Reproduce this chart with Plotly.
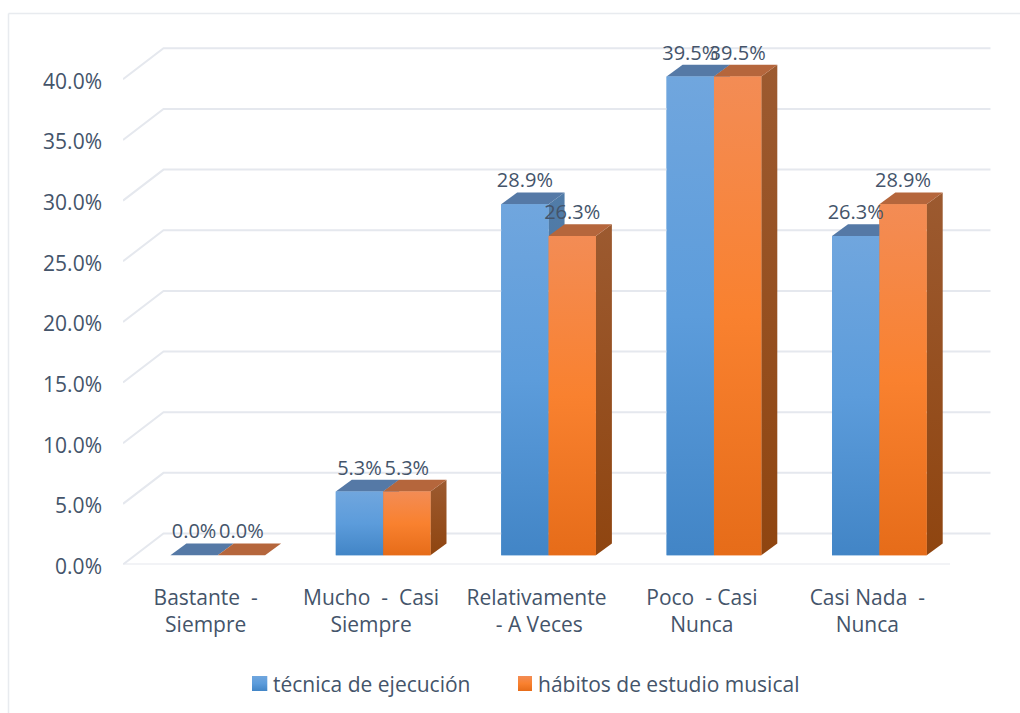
import plotly.graph_objects as go

categories = ["Bastante  -<br>Siempre", "Mucho  -  Casi<br>Siempre", "Relativamente<br> - A Veces",
              "Poco  - Casi<br>Nunca", "Casi Nada  -<br>Nunca"]
tecnica = [0.0, 5.26, 28.95, 39.47, 26.32]
habitos = [0.0, 5.26, 26.32, 39.47, 28.95]
series_names = ["técnica de ejecución", "hábitos de estudio musical"]
y_ticks = [0, 5, 10, 15, 20, 25, 30, 35, 40]

W, H = 1020, 713
TEXT = "#44546a"
FONT = "Open Sans"
GRID = "#e5e8ee"
X_PX = 165.4      # pixels per category
Y_PX = 12.13      # pixels per percentage point
BAR_W = 47.35 / X_PX
BAR_L = -35.3 / X_PX
BASE = 9.2 / Y_PX          # floor depth of the bar front
SIDE_X, SIDE_Y = 16 / X_PX, 11.7 / Y_PX
BACK_X, BACK_Y = 40.5 / X_PX, 31 / Y_PX
LABEL_UP = 22 / Y_PX

STYLES = [
    dict(front=[[0, "#70a6de"], [0.5, "#5c9cdb"], [1, "#4285c6"]],
         top="#5579a6", side=[[0, "#517ca8"], [1, "#3f6d9c"]], solid="#5b9bd5"),
    dict(front=[[0, "#f38c55"], [0.5, "#f9812f"], [1, "#e66c19"]],
         top="#b5663c", side=[[0, "#9c5a30"], [1, "#8f4510"]], solid="#ed7d31"),
]


def grad(scale):
    return dict(type="vertical", colorscale=[[1 - p, c] for p, c in reversed(scale)])


fig = go.Figure()

for i, (vals, st) in enumerate(zip((tecnica, habitos), STYLES)):
    fig.add_bar(x=list(range(5)), y=vals, base=[BASE] * 5, width=BAR_W,
                offset=BAR_L + i * BAR_W, marker=dict(color=st["solid"], line_width=0),
                name=series_names[i], showlegend=False, hoverinfo="skip")

fig.add_scatter(x=[-0.5, 4.5], y=[0, 0], mode="lines",
                line=dict(color=GRID, width=2), showlegend=False, hoverinfo="skip")
for v in y_ticks:
    fig.add_scatter(x=[-0.5, -0.5 + BACK_X, 4.5 + BACK_X], y=[v, v + BACK_Y, v + BACK_Y],
                    mode="lines", line=dict(color=GRID, width=2),
                    showlegend=False, hoverinfo="skip")


def poly(xs, ys, color=None, gradient=None):
    kw = dict(x=xs + xs[:1], y=ys + ys[:1], mode="lines", fill="toself", line=dict(width=0),
              showlegend=False, hoverinfo="skip")
    if gradient:
        kw["fillgradient"] = grad(gradient)
    else:
        kw["fillcolor"] = color
    fig.add_scatter(**kw)


for c in range(5):
    for i, (vals, st) in enumerate(zip((tecnica, habitos), STYLES)):
        x0 = c + BAR_L + i * BAR_W
        x1 = x0 + BAR_W
        y0, y1 = BASE, BASE + vals[c]
        if vals[c] > 0:
            poly([x1, x1 + SIDE_X, x1 + SIDE_X, x1], [y0, y0 + SIDE_Y, y1 + SIDE_Y, y1], gradient=st["side"])
        poly([x0, x1, x1 + SIDE_X, x0 + SIDE_X], [y1, y1, y1 + SIDE_Y, y1 + SIDE_Y], color=st["top"])
        if vals[c] > 0:
            poly([x0, x1, x1, x0], [y0, y0, y1, y1], gradient=st["front"])

for i, vals in enumerate((tecnica, habitos)):
    fig.add_scatter(x=[c + BAR_L + (i + 0.5) * BAR_W for c in range(5)],
                    y=[BASE + v + LABEL_UP for v in vals],
                    text=[f"{v:.1f}%" for v in vals], mode="text", textposition="middle center",
                    textfont=dict(family=FONT, size=20, color=TEXT),
                    showlegend=False, hoverinfo="skip")

for x0, x1, st in ((252, 267.3, STYLES[0]), (518, 532, STYLES[1])):
    fig.add_scatter(x=[x0, x1, x1, x0, x0], y=[676, 676, 691, 691, 676], xaxis="x2", yaxis="y2",
                    mode="lines", fill="toself", line=dict(width=0), fillgradient=grad(st["front"]),
                    showlegend=False, hoverinfo="skip")

annotations = [
    dict(x=tx / W, y=1 - 683.5 / H, xref="paper", yref="paper", text=name, showarrow=False,
         xanchor="left", yanchor="middle", xshift=-2,
         font=dict(family=FONT, size=21, color=TEXT))
    for tx, name in zip((273, 538), series_names)
]

fig.update_layout(
    width=W, height=H, margin=dict(l=0, r=0, t=0, b=0, pad=0), autosize=False,
    paper_bgcolor="white", plot_bgcolor="rgba(0,0,0,0)", barmode="overlay", showlegend=False,
    font=dict(family=FONT, color=TEXT),
    annotations=annotations,
    xaxis=dict(domain=[123 / W, 991 / W], range=[-0.5, -0.5 + 868 / X_PX], tickmode="array",
               tickvals=list(range(5)), ticktext=categories, showgrid=False, zeroline=False,
               showline=False, ticks="", ticklabelstandoff=18, tickangle=0, anchor="y", automargin=False,
               tickfont=dict(family=FONT, size=21, color=TEXT)),
    yaxis=dict(domain=[(H - 564.5) / H, 1 - 20 / H], range=[0, 544.5 / Y_PX], tickmode="array",
               tickvals=y_ticks, ticktext=[f"{v:.1f}%" for v in y_ticks], showgrid=False,
               zeroline=False, showline=False, ticks="", ticklabelstandoff=20, ticklabelshift=2,
               anchor="x", automargin=False, tickfont=dict(family=FONT, size=21, color=TEXT)),
    xaxis2=dict(domain=[0, 1], range=[0, W], visible=False, anchor="y2", automargin=False),
    yaxis2=dict(domain=[0, 1], range=[H, 0], visible=False, anchor="x2", automargin=False),
    shapes=[
        dict(type="line", xref="paper", yref="paper", x0=8.5 / W, x1=8.5 / W, y0=0, y1=1 - 13.5 / H,
             line=dict(color="#e8ebef", width=1.5)),
        dict(type="line", xref="paper", yref="paper", x0=8.5 / W, x1=1, y0=1 - 13.5 / H, y1=1 - 13.5 / H,
             line=dict(color="#e8ebef", width=1.5)),
    ],
)

fig.write_html("out.html", config=dict(displayModeBar=False),
               post_script="document.body.style.margin='0';document.body.style.overflow='hidden';")
